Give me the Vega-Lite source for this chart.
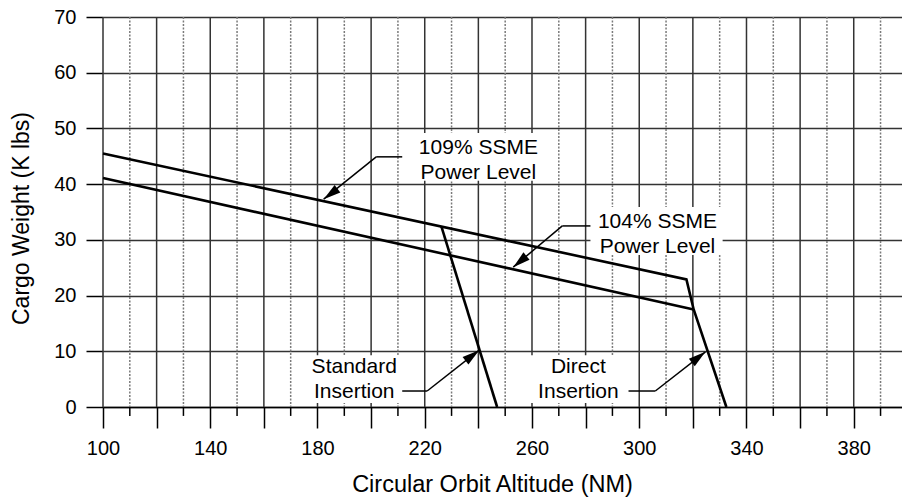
{
  "$schema": "https://vega.github.io/schema/vega-lite/v6.json",
  "width": 799,
  "height": 390,
  "autosize": {"type": "none"},
  "padding": {"left": 103, "top": 17, "right": 0, "bottom": 91},
  "config": {
    "font": "Liberation Sans",
    "view": {"stroke": null},
    "axis": {"labelColor": "#000", "titleColor": "#000", "titleFontWeight": "normal"}
  },
  "datasets": {
    "gridx": [
      {"alt": 100, "kind": "major"}, {"alt": 110, "kind": "minor"},
      {"alt": 120, "kind": "major"}, {"alt": 130, "kind": "minor"},
      {"alt": 140, "kind": "major"}, {"alt": 150, "kind": "minor"},
      {"alt": 160, "kind": "major"}, {"alt": 170, "kind": "minor"},
      {"alt": 180, "kind": "major"}, {"alt": 190, "kind": "minor"},
      {"alt": 200, "kind": "major"}, {"alt": 210, "kind": "minor"},
      {"alt": 220, "kind": "major"}, {"alt": 230, "kind": "minor"},
      {"alt": 240, "kind": "major"}, {"alt": 250, "kind": "minor"},
      {"alt": 260, "kind": "major"}, {"alt": 270, "kind": "minor"},
      {"alt": 280, "kind": "major"}, {"alt": 290, "kind": "minor"},
      {"alt": 300, "kind": "major"}, {"alt": 310, "kind": "minor"},
      {"alt": 320, "kind": "major"}, {"alt": 330, "kind": "minor"},
      {"alt": 340, "kind": "major"}, {"alt": 350, "kind": "minor"},
      {"alt": 360, "kind": "major"}, {"alt": 370, "kind": "minor"},
      {"alt": 380, "kind": "major"}, {"alt": 390, "kind": "minor"}
    ],
    "curves": [
      {"series": "109", "alt": 100, "weight": 45.5},
      {"series": "109", "alt": 317.6, "weight": 22.9},
      {"series": "109", "alt": 320.3, "weight": 17.5},
      {"series": "109", "alt": 332.5, "weight": 0},
      {"series": "104", "alt": 100, "weight": 41.1},
      {"series": "104", "alt": 320.3, "weight": 17.5},
      {"series": "std", "alt": 226.2, "weight": 32.4},
      {"series": "std", "alt": 247.0, "weight": 0}
    ],
    "boxes": [
      {"note": "109", "x1": 211.6, "x2": 265.0, "y1": 49.2, "y2": 40.6},
      {"note": "104", "x1": 281.8, "x2": 331.1, "y1": 35.9, "y2": 27.3},
      {"note": "std", "x1": 174.7, "x2": 210.9, "y1": 9.3, "y2": 0.7},
      {"note": "dir", "x1": 258.6, "x2": 295.2, "y1": 9.3, "y2": 0.7}
    ],
    "leaders": [
      {"note": "109", "xa": 211.6, "ya": 44.9, "xb": 201.9, "yb": 44.9},
      {"note": "109", "xa": 201.9, "ya": 44.9, "xb": 182.3, "yb": 37.3},
      {"note": "104", "xa": 281.8, "ya": 32.5, "xb": 271.3, "yb": 32.5},
      {"note": "104", "xa": 271.3, "ya": 32.5, "xb": 253.0, "yb": 25.1},
      {"note": "std", "xa": 211.6, "ya": 2.87, "xb": 220.9, "yb": 2.87},
      {"note": "std", "xa": 220.9, "ya": 2.87, "xb": 240.3, "yb": 10.2},
      {"note": "dir", "xa": 296.0, "ya": 2.87, "xb": 306.0, "yb": 2.87},
      {"note": "dir", "xa": 306.0, "ya": 2.87, "xb": 324.7, "yb": 9.9}
    ],
    "tips": [
      {"note": "109", "x": 182.3, "y": 37.3},
      {"note": "104", "x": 253.0, "y": 25.1},
      {"note": "std", "x": 240.3, "y": 10.2},
      {"note": "dir", "x": 324.7, "y": 9.9}
    ],
    "notes": [
      {"note": "109", "x": 240.0, "y": 45.4, "label": "109% SSME\nPower Level"},
      {"note": "104", "x": 306.8, "y": 32.1, "label": "104% SSME\nPower Level"},
      {"note": "std", "x": 193.7, "y": 6.1, "label": "Standard\nInsertion"},
      {"note": "dir", "x": 277.3, "y": 6.1, "label": "Direct\nInsertion"}
    ]
  },
  "layer": [
    {
      "data": {"name": "gridx"},
      "mark": {"type": "rule", "strokeWidth": 1.5},
      "encoding": {
        "x": {"field": "alt", "type": "quantitative"},
        "color": {"field": "kind", "type": "nominal", "scale": {"domain": ["major", "minor"], "range": ["#333333", "#7a7a7a"]}, "legend": null},
        "strokeDash": {"field": "kind", "type": "nominal", "scale": {"domain": ["major", "minor"], "range": [[1, 0], [2, 1.5]]}, "legend": null}
      }
    },
    {
      "data": {"name": "gridx"},
      "transform": [{"filter": "datum.kind === 'minor'"}],
      "mark": {"type": "rule", "strokeWidth": 1.5, "color": "#000", "clip": false},
      "encoding": {
        "x": {"field": "alt", "type": "quantitative"},
        "y": {"datum": 0, "type": "quantitative"},
        "y2": {"datum": -1.6}
      }
    },
    {
      "data": {"name": "curves"},
      "mark": {"type": "line", "color": "#000", "strokeWidth": 2.6},
      "encoding": {
        "x": {
          "field": "alt", "type": "quantitative",
          "scale": {"domain": [100, 398], "nice": false, "zero": false},
          "axis": {
            "values": [100,120,140,160,180,200,220,240,260,280,300,320,340,360,380],
            "labelExpr": "(datum.value - 100) % 40 === 0 ? datum.label : ''",
            "grid": false,
            "tickSize": 21,
            "tickColor": "#000",
            "tickWidth": 1.5,
            "domainColor": "#000",
            "domainWidth": 1.5,
            "labelFontSize": 20,
            "labelPadding": 10,
            "labelFlush": false,
            "title": "Circular Orbit Altitude (NM)",
            "titleFontSize": 23.5,
            "titleX": 389,
            "titleY": 65
          }
        },
        "y": {
          "field": "weight", "type": "quantitative",
          "scale": {"domain": [0, 70], "nice": false},
          "axis": {
            "values": [0,10,20,30,40,50,60,70],
            "grid": true,
            "gridColor": "#333",
            "gridWidth": 1.5,
            "domain": false,
            "tickSize": 17,
            "tickColor": "#000",
            "tickWidth": 1.5,
            "labelFontSize": 20,
            "labelPadding": 10,
            "title": "Cargo Weight (K lbs)",
            "titleFontSize": 23,
            "titlePadding": 20,
            "titleY": 201
          }
        },
        "detail": {"field": "series", "type": "nominal"}
      }
    },
    {
      "data": {"name": "boxes"},
      "mark": {"type": "rect", "fill": "#fff", "stroke": null},
      "encoding": {
        "x": {"field": "x1", "type": "quantitative"},
        "x2": {"field": "x2"},
        "y": {"field": "y1", "type": "quantitative"},
        "y2": {"field": "y2"}
      }
    },
    {
      "data": {"name": "leaders"},
      "mark": {"type": "rule", "color": "#000", "strokeWidth": 1.5},
      "encoding": {
        "x": {"field": "xa", "type": "quantitative"},
        "y": {"field": "ya", "type": "quantitative"},
        "x2": {"field": "xb"},
        "y2": {"field": "yb"}
      }
    },
    {
      "data": {"name": "tips"},
      "transform": [{"filter": "datum.note === '109'"}],
      "mark": {"type": "point", "shape": "M0,0L0.55,2L-0.55,2Z", "filled": true, "color": "#000", "opacity": 1, "size": 300, "angle": 233},
      "encoding": {"x": {"field": "x", "type": "quantitative"}, "y": {"field": "y", "type": "quantitative"}}
    },
    {
      "data": {"name": "tips"},
      "transform": [{"filter": "datum.note === '104'"}],
      "mark": {"type": "point", "shape": "M0,0L0.55,2L-0.55,2Z", "filled": true, "color": "#000", "opacity": 1, "size": 300, "angle": 230},
      "encoding": {"x": {"field": "x", "type": "quantitative"}, "y": {"field": "y", "type": "quantitative"}}
    },
    {
      "data": {"name": "tips"},
      "transform": [{"filter": "datum.note === 'std' || datum.note === 'dir'"}],
      "mark": {"type": "point", "shape": "M0,0L0.55,2L-0.55,2Z", "filled": true, "color": "#000", "opacity": 1, "size": 300, "angle": 52},
      "encoding": {"x": {"field": "x", "type": "quantitative"}, "y": {"field": "y", "type": "quantitative"}}
    },
    {
      "data": {"name": "notes"},
      "mark": {"type": "text", "font": "Liberation Sans", "fontSize": 21, "lineHeight": 25, "lineBreak": "\n", "align": "center", "baseline": "alphabetic", "color": "#000"},
      "encoding": {
        "x": {"field": "x", "type": "quantitative"},
        "y": {"field": "y", "type": "quantitative"},
        "text": {"field": "label", "type": "nominal"}
      }
    }
  ]
}
